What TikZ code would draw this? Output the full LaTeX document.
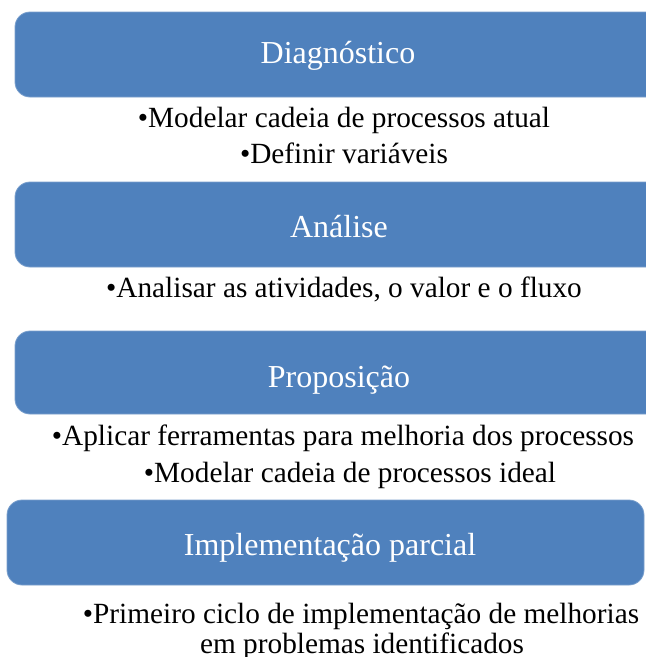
\documentclass[tikz,border=0pt]{standalone}
\usepackage{fontspec}
\setmainfont{Liberation Serif}
\definecolor{boxblue}{HTML}{4F81BD}
\begin{document}
\begin{tikzpicture}[x=1pt,y=-1pt,
  phase/.style={draw=boxblue!75!white, line width=0.8pt, fill=boxblue, rounded corners=15pt},
  title/.style={anchor=base, text=white, inner sep=0pt, font=\fontsize{32}{38}\selectfont},
  item/.style={anchor=base, text=black, inner sep=0pt, font=\fontsize{29.3}{35}\selectfont}]
\useasboundingbox (0,0) rectangle (646,657);
% boxes
\draw[phase] (15,12) rectangle (662,97);
\draw[phase] (15,182) rectangle (662,267);
\draw[phase] (15,331) rectangle (662,414);
\draw[phase] (7,500) rectangle (644,585);
% titles
\node[title] (t1) at (338,63) {Diagnóstico};
\node[title] (t2) at (339,237) {Análise};
\node[title] (t3) at (339,387) {Proposição};
\node[title] (t4) at (330,555) {Implementação parcial};
% items
\node[item] (a1) at (344,127) {•Modelar cadeia de processos atual};
\node[item] (a2) at (344,163) {•Definir variáveis};
\node[item] (b1) at (344,297) {•Analisar as atividades, o valor e o fluxo};
\node[item] (c1) at (343,445) {•Aplicar ferramentas para melhoria dos processos};
\node[item] (c2) at (350,482) {•Modelar cadeia de processos ideal};
\node[item] (d1) at (361,623) {•Primeiro ciclo de implementação de melhorias};
\node[item] (d2) at (362,653) {em problemas identificados};
\end{tikzpicture}
\end{document}
